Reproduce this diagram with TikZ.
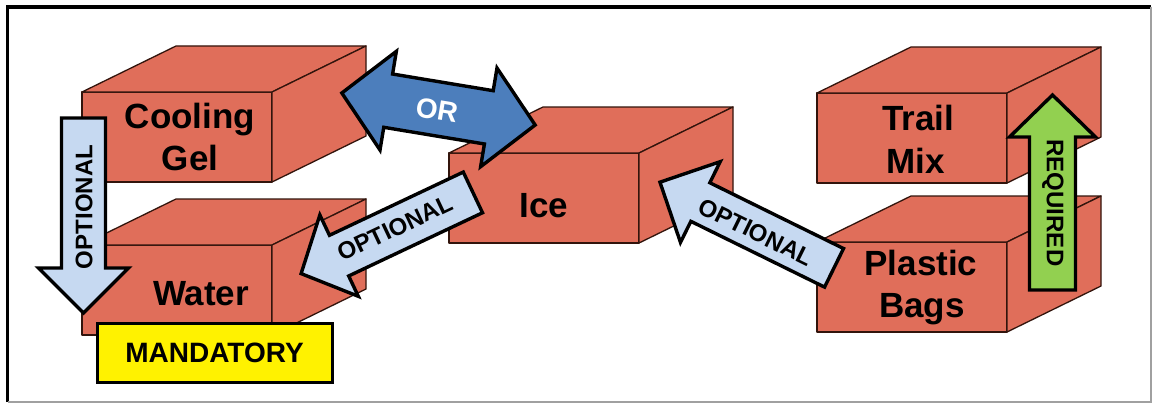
\documentclass[tikz,border=0pt]{standalone}
\usepackage{fontspec}
\setmainfont{Liberation Sans}
\definecolor{crate}{RGB}{224,110,90}
\definecolor{crateedge}{RGB}{50,20,12}
\definecolor{optblue}{RGB}{198,217,241}
\definecolor{orblue}{RGB}{76,126,188}
\definecolor{reqgreen}{RGB}{146,208,80}
\definecolor{framegray}{RGB}{160,160,160}

% crate: a 3-D box; #1 name, #2 top-left corner of the front face
\newcommand\crate[2]{%
  \node[crateface, anchor=north west, minimum width=190pt, minimum height=90pt, inner sep=0pt, outer sep=0pt] (#1) at (#2) {};
  \draw[crateface] (#1.north west) -- ++(94,-46) -- ++(190,0) -- (#1.north east) -- cycle;
  \draw[crateface] (#1.north east) -- ++(94,-46) -- ++(0,90) -- (#1.south east) -- cycle;
}
% block arrow: #1 name, #2 centre, #3 direction, #4 length, #5 head length,
% #6 head half-width, #7 shaft half-width, #8 style
\newcommand\blockarrow[8]{%
  \begin{scope}[shift={(#2)}, rotate=#3]
    \draw[#8] (-#4/2,-#7) -- (#4/2-#5,-#7) -- (#4/2-#5,-#6) -- (#4/2,0)
      -- (#4/2-#5,#6) -- (#4/2-#5,#7) -- (-#4/2,#7) -- cycle;
    \coordinate (#1) at (0,0);
  \end{scope}}
% two-headed block arrow, same arguments
\newcommand\twinarrow[8]{%
  \begin{scope}[shift={(#2)}, rotate=#3]
    \draw[#8] (-#4/2,0) -- (-#4/2+#5,-#6) -- (-#4/2+#5,-#7) -- (#4/2-#5,-#7)
      -- (#4/2-#5,-#6) -- (#4/2,0) -- (#4/2-#5,#6) -- (#4/2-#5,#7)
      -- (-#4/2+#5,#7) -- (-#4/2+#5,#6) -- cycle;
    \coordinate (#1) at (0,0);
  \end{scope}}

\begin{document}
\begin{tikzpicture}[x=1pt,y=-1pt,
  crateface/.style={draw=crateedge, fill=crate, line width=1.3pt, line join=round},
  boxlabel/.style={font=\bfseries\fontsize{35}{42}\selectfont, anchor=base, inner sep=0pt},
  arrowlabel/.style={font=\bfseries\fontsize{24}{24}\selectfont, inner sep=0pt},
  optarrow/.style={draw=black, fill=optblue, line width=3.4pt, line join=miter},
  orarrow/.style={draw=black, fill=orblue, line width=3.4pt, line join=miter},
  reqarrow/.style={draw=black, fill=reqgreen, line width=3.4pt, line join=miter}]

\useasboundingbox (0,0) rectangle (1153,404);
\fill[white] (0,0) rectangle (1153,404);

% frame
\draw[black, line width=3.5pt] (7.5,402) -- (7.5,7) -- (1151,7);
\draw[framegray, line width=2pt] (1150.5,7) -- (1150.5,401.5) -- (7.5,401.5);

% crates
\crate{gel}{82,92}
\crate{water}{82,245}
\crate{ice}{449,153}
\crate{trail}{817,93}
\crate{bags}{817,242}

% crate labels
\node[boxlabel] (gel1) at (190,128) {Cooling};
\node[boxlabel] (gel2) at (190,170) {Gel};
\node[boxlabel] (waterlbl) at (201,305) {Water};
\node[boxlabel] (icelbl) at (544,217) {Ice};
\node[boxlabel] (trail1) at (918,130) {Trail};
\node[boxlabel] (trail2) at (916,173) {Mix};
\node[boxlabel] (bags1) at (921,275) {Plastic};
\node[boxlabel] (bags2) at (922,317) {Bags};

% relations
\blockarrow{gelwater}{83.5,215.5}{-90}{195}{45}{45}{22}{optarrow}
\node[arrowlabel, rotate=90] (gelwaterlbl) at (84,207) {OPTIONAL};

\twinarrow{gelice}{438.5,109}{-9.4}{196}{47}{50}{27}{orarrow}
\node[arrowlabel, text=white, font=\bfseries\fontsize{28}{28}\selectfont, rotate=-9.4] (gelicelbl) at (437,110) {OR};

\blockarrow{icewater}{387,233}{205.3}{190}{42}{45}{22.5}{optarrow}
\node[arrowlabel, rotate=25.3] (icewaterlbl) at (395,228) {OPTIONAL};

\blockarrow{bagsice}{747,225}{153.8}{194}{45}{45}{21.5}{optarrow}
\node[arrowlabel, rotate=-26.2] (bagsicelbl) at (756,232) {OPTIONAL};

\blockarrow{bagstrail}{1052.5,192.5}{90}{195}{42}{43}{23}{reqarrow}
\node[arrowlabel, rotate=-90] (bagstraillbl) at (1053,203) {REQUIRED};

% mandatory tag
\node[draw=black, fill=yellow, line width=3pt, minimum width=235pt, minimum height=59pt,
      inner sep=0pt, font=\bfseries\fontsize{28}{28}\selectfont] (mandatory) at (214.5,352.5) {MANDATORY};
\end{tikzpicture}
\end{document}
